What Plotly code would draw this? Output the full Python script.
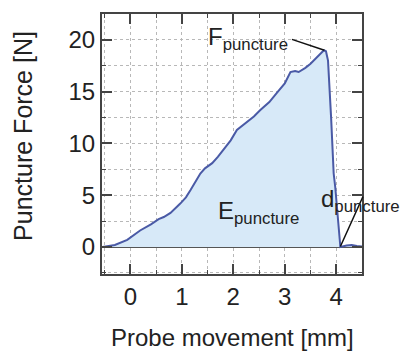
import plotly.graph_objects as go

# Data
probe_mm = [-0.54, -0.30, -0.06, 0.19, 0.40, 0.55, 0.65, 0.78, 0.97, 1.08, 1.17, 1.27,
            1.36, 1.45, 1.59, 1.70, 1.81, 1.95, 2.07, 2.17, 2.26, 2.40, 2.52, 2.70,
            2.85, 3.00, 3.11, 3.20, 3.27, 3.40, 3.50, 3.65, 3.76, 3.80, 3.84, 3.90,
            3.95, 3.98, 4.03, 4.08, 4.20, 4.30, 4.40, 4.50]
force_n = [0.0, 0.2, 0.7, 1.6, 2.2, 2.7, 2.9, 3.3, 4.2, 4.8, 5.5, 6.3,
           7.1, 7.6, 8.1, 8.7, 9.4, 10.3, 11.3, 11.7, 12.0, 12.6, 13.2, 14.0,
           14.9, 15.8, 16.9, 17.0, 16.9, 17.3, 17.7, 18.4, 19.0, 18.9, 18.0, 12.5,
           7.1, 5.8, 2.5, 0.0, 0.15, 0.2, 0.1, 0.05]

x_ticks = [0, 1, 2, 3, 4]
y_ticks = [0, 5, 10, 15, 20]

FONT = "Liberation Sans, Arial, sans-serif"
TXT = "#222222"
AX = "#444444"

fig = go.Figure()
fig.add_trace(go.Scatter(
    x=probe_mm, y=force_n, mode="lines", fill="tozeroy",
    fillcolor="#d7e9f8", line=dict(color="#4a5aa6", width=2),
    showlegend=False, hoverinfo="skip"))

axis_common = dict(
    showline=True, linecolor=AX, linewidth=2, mirror="ticks",
    ticks="inside", ticklen=10, tickwidth=2, tickcolor=AX,
    showgrid=True, gridcolor="#b8b8b8", gridwidth=1, griddash="dot",
    tickfont=dict(family=FONT, size=24, color=TXT),
    minor=dict(ticks="inside", ticklen=4, tickcolor=AX, tickwidth=1,
               showgrid=True, gridcolor="#b8b8b8", griddash="dot", gridwidth=1),
)

fig.update_xaxes(range=[-0.55, 4.5], tickvals=x_ticks, zeroline=False,
                 minor_dtick=0.5, **axis_common)
fig.update_yaxes(range=[-2.6, 22.5], tickvals=y_ticks, zeroline=True,
                 zerolinecolor="#555555", zerolinewidth=2,
                 minor_dtick=2.5, **axis_common)

ann_font = dict(family=FONT, size=24, color=TXT)
fig.add_annotation(x=3.77, y=19.0, ax=3.11, ay=20.1, axref="x", ayref="y",
                   showarrow=True, arrowhead=0, arrowwidth=1.5, arrowcolor="#111",
                   text="")
fig.add_annotation(x=4.08, y=0.05, ax=4.53, ay=5.0, axref="x", ayref="y",
                   showarrow=True, arrowhead=0, arrowwidth=1.5, arrowcolor="#111",
                   text="")
fig.add_annotation(x=1.47, y=20.1, text="F<sub>puncture</sub>", showarrow=False,
                   xanchor="left", yanchor="middle", font=ann_font)
fig.add_annotation(x=1.66, y=3.3, text="E<sub>puncture</sub>", showarrow=False,
                   xanchor="left", yanchor="middle", font=ann_font)
fig.add_annotation(x=3.66, y=4.5, text="d<sub>puncture</sub>", showarrow=False,
                   xanchor="left", yanchor="middle", font=ann_font)

# Axis titles
fig.add_annotation(xref="paper", yref="paper", x=0.502, y=-0.243,
                   text="Probe movement [mm]", showarrow=False,
                   xanchor="center", yanchor="middle",
                   font=dict(family=FONT, size=24, color=TXT))
fig.add_annotation(xref="paper", yref="paper", x=-0.305, y=0.53,
                   text="Puncture Force [N]", showarrow=False, textangle=-90,
                   xanchor="center", yanchor="middle",
                   font=dict(family=FONT, size=25, color=TXT))

fig.update_layout(
    width=404, height=352,
    margin=dict(l=102, r=42, t=14, b=78),
    paper_bgcolor="white", plot_bgcolor="white",
    font=dict(family=FONT, color=TXT),
)

fig.write_html("out.html")
